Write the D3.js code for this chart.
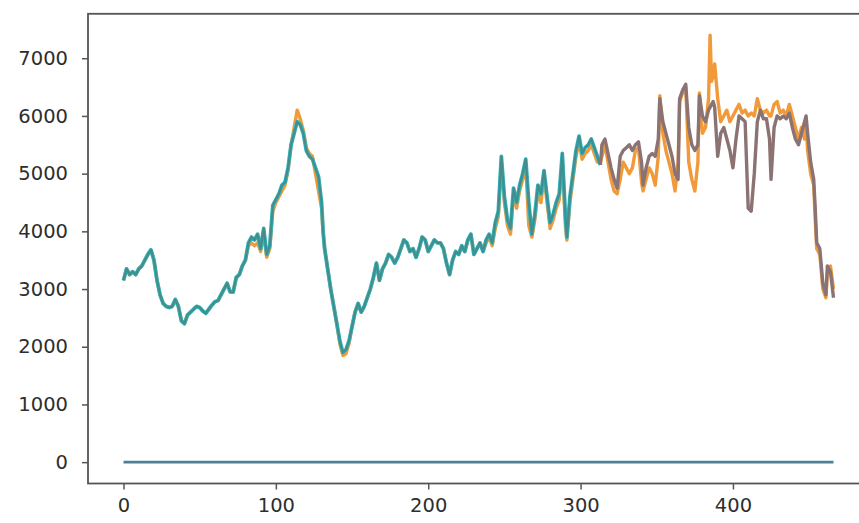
<!DOCTYPE html>
<html>
<head>
<meta charset="utf-8">
<script src="https://cdn.jsdelivr.net/npm/d3@7"></script>
<style>
  html, body { margin: 0; padding: 0; background: #fff; }
  svg { display: block; }
</style>
</head>
<body>
<svg id="chart" width="859" height="523"></svg>
<script>
// ---- data ----
const xTicks = [0, 100, 200, 300, 400];
const yTicks = [0, 1000, 2000, 3000, 4000, 5000, 6000, 7000];

const zeroX = [0, 466];
const zeroY = [0, 0];

const trainX = [0,2,4,6,8,10,12,14,16,18,
  20,22,24,26,28,30,32,34,36,38,
  40,42,44,46,48,50,52,54,56,58,
  60,62,64,66,68,70,72,74,76,78,
  80,82,84,86,88,90,92,94,96,98,
  100,102,104,106,108,110,112,114,116,118,
  120,122,124,126,128,130,131,132,134,136,
  138,140,142,144,146,148,150,152,154,156,
  158,160,162,164,166,168,170,172,174,176,
  178,180,182,184,186,188,190,192,194,196,
  198,200,202,204,206,208,210,212,214,216,
  218,220,222,224,226,228,230,232,234,236,
  238,240,242,244,246,248,250,252,254,256,
  258,260,262,264,266,268,270,272,274,276,
  278,280,282,284,286,288,290,291,293,295,
  297,299,301,303,305,307,309,311,313];

const trainPred = [3150,3350,3250,3300,3250,3350,3400,3500,3600,3680,
  3500,3150,2900,2750,2700,2680,2700,2820,2700,2450,
  2400,2550,2600,2650,2700,2680,2620,2580,2650,2720,
  2780,2800,2900,3000,3100,2950,2950,3200,3250,3400,
  3500,3800,3900,3850,3950,3700,4050,3600,3750,4450,
  4550,4650,4800,4850,5100,5500,5700,5900,5850,5700,
  5400,5300,5250,5100,4950,4500,4000,3700,3350,3000,
  2700,2400,2100,1900,1950,2100,2350,2600,2750,2600,
  2700,2850,3000,3200,3450,3150,3350,3450,3600,3550,
  3450,3550,3700,3850,3800,3650,3700,3550,3700,3900,
  3850,3650,3750,3850,3800,3800,3700,3450,3250,3500,
  3650,3600,3750,3650,3850,3950,3600,3700,3800,3650,
  3850,3950,3800,4150,4350,5300,4600,4200,4050,4750,
  4500,4800,5000,5250,4500,3950,4300,4800,4650,5050,
  4600,4150,4300,4500,4650,5350,4300,3900,4600,5000,
  5400,5650,5350,5450,5500,5600,5450,5300,5150];

const actualA = [3150,3350,3250,3300,3250,3350,3400,3500,3600,3680,
  3500,3150,2900,2750,2700,2680,2700,2820,2700,2450,
  2400,2550,2600,2650,2700,2680,2620,2580,2650,2720,
  2780,2800,2900,3000,3100,2950,2950,3200,3250,3400,
  3500,3750,3800,3750,3800,3650,3950,3550,3700,4350,
  4500,4600,4700,4800,5050,5500,5800,6100,5950,5750,
  5450,5350,5300,5000,4700,4400,4000,3700,3350,3000,
  2700,2400,2050,1850,1880,2050,2350,2600,2750,2600,
  2700,2850,3000,3200,3450,3150,3350,3450,3600,3550,
  3450,3550,3700,3850,3800,3650,3700,3550,3700,3900,
  3850,3650,3750,3850,3800,3800,3700,3450,3250,3500,
  3650,3600,3750,3650,3850,3950,3600,3700,3800,3650,
  3800,3900,3750,4050,4250,5200,4500,4100,3950,4650,
  4400,4700,4900,5150,4100,3900,4200,4700,4500,4950,
  4500,4050,4200,4400,4550,5250,4100,3850,4500,4900,
  5300,5550,5250,5350,5400,5500,5350,5200,5200];

const testX = [313,314,316,318,320,322,324,326,328,330,
  332,334,336,338,340,341,343,345,347,349,
  351,352,354,356,358,360,362,364,365,367,
  369,371,373,375,377,378,380,382,384,385,
  386,387,388,390,392,394,396,398,400,402,
  404,406,408,410,412,414,416,418,420,422,
  424,425,427,429,431,433,435,437,439,441,
  443,445,447,448,449,451,453,454,455,457,
  459,461,462,464,466];

const testPred = [5150,5500,5600,5350,5100,4900,4750,5300,5400,5450,
  5500,5400,5500,5550,5200,4800,5100,5300,5350,5300,
  5600,6300,5900,5700,5500,5300,5000,4900,6300,6450,
  6550,5800,5500,5400,5500,6350,6000,5900,6100,6150,
  6200,6250,6150,5300,5700,5800,5600,5400,5100,5600,
  6000,5950,5900,4400,4350,5000,5900,6100,5950,5950,
  5600,4900,5800,6000,5950,6000,5950,6050,5800,5600,
  5500,5700,5900,6000,5700,5200,4900,4400,3800,3700,
  3100,2900,3400,3300,2850];

const actualB = [5200,5300,5500,5200,4900,4700,4650,4900,5200,5100,
  5000,5100,5400,5450,4850,4700,4900,5100,5000,4800,
  5300,6350,5700,5400,5200,5000,4700,5200,6250,6400,
  6500,5200,4900,4700,5200,6400,5700,5800,6300,7400,
  6600,6700,6900,6300,5900,6000,6100,5900,6000,6100,
  6200,6050,6100,6000,6050,6000,6300,6100,6050,6100,
  6000,6000,6200,6250,6050,6100,6000,6200,6000,5800,
  5600,5800,5600,5900,5400,5000,4800,4200,3700,3600,
  3000,2850,3300,3400,3000];

// ---- layout ----
const svg = d3.select("#chart");
const x = d3.scaleLinear().domain([-23.3, 489.3]).range([88, 869]);
const y = d3.scaleLinear().domain([-370, 7770]).range([483.5, 13.8]);

const pts = (xs, ys) => xs.map((v, i) => [v, ys[i]]);
const line = d3.line().x(d => x(d[0])).y(d => y(d[1]));

const actualX = trainX.concat(testX.slice(1));
const actualY = actualA.concat(actualB.slice(1));

const g = svg.append("g");

g.append("path").datum(pts(zeroX, zeroY)).attr("d", line)
  .attr("fill", "none").attr("stroke", "#4d8196").attr("stroke-width", 2.6);

g.append("path").datum(pts(actualX, actualY)).attr("d", line)
  .attr("fill", "none").attr("stroke", "#f19a3a").attr("stroke-width", 3.4)
  .attr("stroke-linejoin", "round");

g.append("path").datum(pts(trainX, trainPred)).attr("d", line)
  .attr("fill", "none").attr("stroke", "#2bb7bf").attr("stroke-width", 3.8)
  .attr("stroke-linejoin", "round");
g.append("path").datum(pts(trainX, trainPred)).attr("d", line)
  .attr("fill", "none").attr("stroke", "#458d8d").attr("stroke-width", 2.2)
  .attr("stroke-linejoin", "round");

g.append("path").datum(pts(testX, testPred)).attr("d", line)
  .attr("fill", "none").attr("stroke", "#8c7373").attr("stroke-width", 3.4)
  .attr("stroke-linejoin", "round");

// frame
svg.append("rect").attr("x", x(-23.3)).attr("y", y(7770))
  .attr("width", x(489.3) - x(-23.3)).attr("height", y(-370) - y(7770))
  .attr("fill", "none").attr("stroke", "#555").attr("stroke-width", 1.8);

// axes
const xAxis = d3.axisBottom(x).tickValues(xTicks).tickFormat(d3.format("d")).tickSize(6).tickPadding(9);
const yAxis = d3.axisLeft(y).tickValues(yTicks).tickFormat(d3.format("d")).tickSize(6).tickPadding(14);

const gx = svg.append("g").attr("transform", `translate(0,${y(-370)})`).call(xAxis);
const gy = svg.append("g").attr("transform", `translate(${x(-23.3)},0)`).call(yAxis);
[gx, gy].forEach(a => {
  a.select(".domain").remove();
  a.selectAll(".tick line").attr("stroke", "#555").attr("stroke-width", 1.5);
  a.selectAll(".tick text").attr("fill", "#2e2e2e")
    .style("font-family", "DejaVu Sans, sans-serif").style("font-size", "19.5px");
});
</script>
</body>
</html>
